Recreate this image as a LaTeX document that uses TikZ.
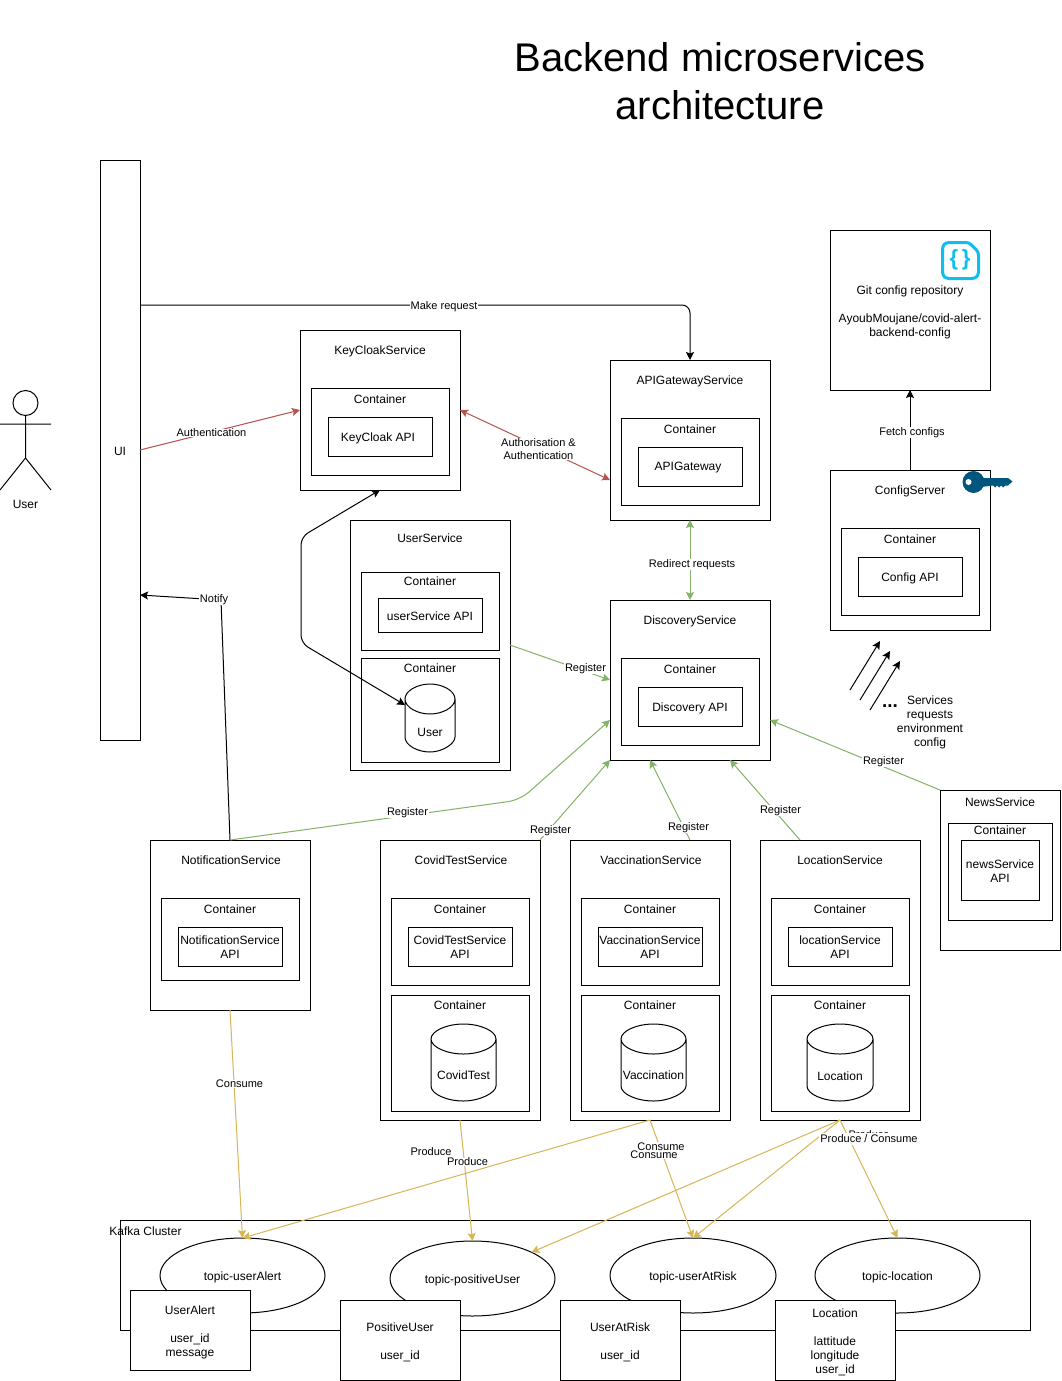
\documentclass[tikz,border=0pt]{standalone}
\usepackage{fontspec}
\setmainfont{Liberation Sans}
\usetikzlibrary{arrows.meta,calc,shapes.geometric}
\definecolor{gcol}{HTML}{82B366}
\definecolor{rcol}{HTML}{B85450}
\definecolor{ycol}{HTML}{D6B656}
\definecolor{keyc}{HTML}{00567E}
\definecolor{gitc}{HTML}{10BDF0}
\tikzset{
  bx/.style={draw=black,line width=1pt,fill=white,anchor=north west,inner sep=0pt,outer sep=0pt,align=center,font=\fontsize{12}{14}\selectfont},
  tx/.style={inner sep=0pt,outer sep=0pt,align=center,font=\fontsize{12}{14}\selectfont},
  lbl/.style={fill=white,inner xsep=1pt,inner ysep=0pt,outer sep=0pt,align=center,font=\fontsize{11}{13}\selectfont},
  tip/.style={-{Stealth[length=8pt,width=8pt,inset=1.5pt]}},
  dtip/.style={{Stealth[length=8pt,width=8pt,inset=1.5pt]}-{Stealth[length=8pt,width=8pt,inset=1.5pt]}},
  blk/.style={draw=black,line width=1pt,tip},
  grn/.style={draw=gcol,line width=1pt,tip},
  grnd/.style={draw=gcol,line width=1pt,dtip},
  redd/.style={draw=rcol,line width=1pt},
  gold/.style={draw=ycol,line width=1pt,tip},
  topic/.style={draw=black,line width=1pt,fill=white,inner sep=0pt,outer sep=0pt},
}
\newcommand{\boxat}[5]{\node[bx,minimum width=#4pt,minimum height=#5pt] (#1) at (#2,#3) {};}
\newcommand{\svc}[8][0]{\boxat{#2}{#3}{#4}{#5}{#6}\node[tx,xshift=#1pt] (#2-t) at ($(#3,#8)+(#5/2,0)$) {#7};}
\newcommand{\ctn}[6]{\boxat{#1}{#2}{#3}{#4}{#5}\node[tx] (#1-t) at ($(#2,#6)+(#4/2,0)$) {Container};}
\newcommand{\api}[7][yshift=-1pt]{\boxat{#2}{#3}{#4}{#5}{#6}\node[tx,#1] (#2-t) at (#2.center) {#7};}
\newcommand{\topicnode}[5]{\node[topic,ellipse,minimum width=#4pt,minimum height=75pt] (#1) at (#2,#3) {};\node[tx,yshift=-1.5pt] (#1-t) at (#1.center) {#5};}
\newcommand{\cyl}[7]{%
  \draw[draw=black,line width=1pt,fill=white]
    (#2,{#3+15}) -- (#2,{#3+#5-15})
    .. controls +(0,8.3) and ({#2+#4/4},{#3+#5}) .. ({#2+#4/2},{#3+#5})
    .. controls ({#2+3*#4/4},{#3+#5}) and ({#2+#4},{#3+#5-8.3}) .. ({#2+#4},{#3+#5-15})
    -- ({#2+#4},{#3+15})
    .. controls ({#2+#4},{#3+6.7}) and ({#2+3*#4/4},#3) .. ({#2+#4/2},#3)
    .. controls ({#2+#4/4},#3) and (#2,{#3+6.7}) .. (#2,{#3+15})
    .. controls (#2,{#3+23.3}) and ({#2+#4/4},{#3+30}) .. ({#2+#4/2},{#3+30})
    .. controls ({#2+3*#4/4},{#3+30}) and ({#2+#4},{#3+23.3}) .. ({#2+#4},{#3+15});
  \node[tx,minimum width=#4pt,minimum height=#5pt,anchor=north west] (#1) at (#2,#3) {};
  \node[tx] (#1-t) at ({#2+#4/2},#7) {#6};}
\begin{document}
\begin{tikzpicture}[x=1pt,y=-1pt]
\path[fill=white,use as bounding box] (0,0) rectangle (1061,1381);

% title
\node[inner sep=0pt,align=center,font=\fontsize{40}{48}\selectfont] (title) at (720,81) {Backend microservices\\architecture};

% UI and user
\boxat{ui}{100}{160}{40}{580}
\node[tx] (ui-t) at (120,451) {UI};
\node[draw=black,line width=1pt,fill=white,circle,minimum size=25pt,inner sep=0pt,outer sep=0pt] (head) at (25.5,403) {};
\coordinate (hip) at (25.5,458);
\coordinate (armL) at (0,424);
\coordinate (armR) at (51,424);
\coordinate (legL) at (0,490);
\coordinate (legR) at (51,490);
\draw[line width=1pt] (head.south) -- (hip) (armL) -- (armR) (legL) -- (hip) -- (legR);
\node[tx] (user-t) at (25.5,504) {User};

% KeyCloak
\svc{kc}{300}{330}{160}{160}{KeyCloakService}{351}
\ctn{kcc}{311}{388}{138}{87}{399}
\api[xshift=-2pt,yshift=-1.5pt]{kca}{328}{417}{104}{39}{KeyCloak API}

% API Gateway
\svc{gw}{610}{360}{160}{160}{APIGatewayService}{381}
\ctn{gwc}{621}{418}{138}{87}{429}
\api[xshift=-2pt,yshift=-1.5pt]{gwa}{638}{447}{104}{39}{APIGateway}

% Git
\boxat{git}{830}{230}{160}{160}
\node[tx] (git-t) at (910,312) {Git config repository\\[14pt]AyoubMoujane/covid-alert-\\backend-config};
\draw[gitc,line width=3pt,line join=round,rounded corners=3pt] (969,242.5) -- (946,242.5) -- (942.5,246) -- (942.5,275) -- (946,278.5) -- (975,278.5) -- (978.5,275) -- (978.5,252) -- cycle;
\node[inner sep=0pt,text=gitc,font=\fontsize{22}{24}\bfseries\selectfont] (gitbrace) at (960,260) {\{\,\}};

% Config server
\svc{cfg}{830}{470}{160}{160}{ConfigServer}{491}
\ctn{cfgc}{841}{528}{138}{87}{539}
\api[yshift=-1.5pt]{cfga}{858}{557}{104}{39}{Config API}
\fill[keyc] (973.5,482) circle (11pt);
\fill[keyc] (981,478) -- (1008,478) -- (1012.5,481.5) -- (1008,485.5) -- (1005,485.5) -- (1003,487.5) -- (1001,485.5) -- (999,487.5) -- (997,485.5) -- (995,487.5) -- (993,485.5) -- (981,487) -- cycle;
\fill[white] (968.5,482) circle (3pt);

% User service
\svc{us}{350}{520}{160}{250}{UserService}{538}
\ctn{usc}{361}{572}{138}{78}{581}
\api{usa}{378}{598}{104}{34}{userService API}
\ctn{usd}{361}{658}{138}{104}{668}
\cyl{usdb}{405}{684}{50}{68}{User}{732}

% Discovery
\svc{ds}{610}{600}{160}{160}{DiscoveryService}{621}
\ctn{dsc}{621}{658}{138}{87}{669}
\api[yshift=-1.5pt]{dsa}{638}{687}{104}{39}{Discovery API}

% News
\svc{ns}{940}{790}{120}{160}{NewsService}{802}
\ctn{nsc}{948}{823}{104}{97}{830}
\api{nsa}{961}{840}{78}{60}{newsService\\API}

% Notification
\svc[1]{nf}{150}{840}{160}{170}{NotificationService}{860}
\ctn{nfc}{161}{898}{138}{82}{909}
\api{nfa}{178}{927}{104}{39}{NotificationService\\API}

% CovidTest
\svc[1]{ct}{380}{840}{160}{280}{CovidTestService}{860}
\ctn{ctc}{391}{898}{138}{87}{909}
\api{cta}{408}{927}{104}{39}{CovidTestService\\API}
\ctn{ctd}{391}{995}{138}{116}{1005}
\cyl{ctdb}{431}{1024}{65}{77}{CovidTest}{1075}

% Vaccination
\svc[1]{vc}{570}{840}{160}{280}{VaccinationService}{860}
\ctn{vcc}{581}{898}{138}{87}{909}
\api{vca}{598}{927}{104}{39}{VaccinationService\\API}
\ctn{vcd}{581}{995}{138}{116}{1005}
\cyl{vcdb}{621}{1024}{65}{77}{Vaccination}{1075}

% Location
\svc{lc}{760}{840}{160}{280}{LocationService}{860}
\ctn{lcc}{771}{898}{138}{87}{909}
\api{lca}{788}{927}{104}{39}{locationService\\API}
\ctn{lcd}{771}{995}{138}{116}{1005}
\cyl{lcdb}{807}{1024}{66}{77}{Location}{1076}

% Kafka
\boxat{kafka}{120}{1220}{910}{110}
\node[tx] (kafka-t) at (145.5,1231) {Kafka Cluster};
\topicnode{t1}{242.5}{1275.5}{165}{topic-userAlert}
\topicnode{t2}{472.5}{1278.5}{165}{topic-positiveUser}
\topicnode{t3}{693}{1275.5}{166}{topic-userAtRisk}
\topicnode{t4}{897.5}{1275.5}{165}{topic-location}
\boxat{m1}{130}{1290}{120}{80}
\node[tx] (m1-t) at (190,1332) {UserAlert\\[14pt]user\_id\\message};
\boxat{m2}{340}{1300}{120}{80}
\node[tx] (m2-t) at (400,1342) {PositiveUser\\[14pt]user\_id};
\boxat{m3}{560}{1300}{120}{80}
\node[tx] (m3-t) at (620,1342) {UserAtRisk\\[14pt]user\_id};
\boxat{m4}{775}{1300}{120}{80}
\node[tx] (m4-t) at (835,1342) {Location\\[14pt]lattitude\\longitude\\user\_id};

% black connectors
\draw[blk,rounded corners=8pt] (ui.east |- 0,305) -| (gw.north);
\node[lbl] (l-make) at (444,306.5) {Make request};
\draw[blk] (nf.north) -- (221,600) -- (ui.east |- 0,595);
\node[lbl] (l-notify) at (214,600) {Notify};
\draw[blk] (cfg.north) -- (git.south);
\node[lbl] (l-fetch) at (912,432.5) {Fetch configs};
\draw[line width=1pt,dtip,rounded corners=8pt] (kc.south) -- (301,537) -- (301,643) -- (usdb.west |- 0,705);
\coordinate (a1s) at (850,690); \coordinate (a1e) at (880,641);
\coordinate (a2s) at (860,700); \coordinate (a2e) at (890,651);
\coordinate (a3s) at (870,710); \coordinate (a3e) at (900,661);
\draw[blk] (a1s) -- (a1e);
\draw[blk] (a2s) -- (a2e);
\draw[blk] (a3s) -- (a3e);
\node[inner sep=0pt,font=\fontsize{19}{19}\bfseries\selectfont] (dots) at (890,706) {...};
\node[tx] (services) at (930,722) {Services\\requests\\environment\\config};

% red connectors
\draw[redd,tip] (ui.east) -- (kc.west);
\node[lbl] (l-auth) at (211.5,433) {Authentication};
\draw[redd,dtip] (kc.east) -- (gw.west |- 0,480);
\node[lbl] (l-authz) at (538.5,449) {Authorisation \&\\Authentication};

% green connectors
\draw[grnd] (gw.south) -- (ds.north);
\node[lbl] (l-redir) at (692,564.5) {Redirect requests};
\draw[grn] (us.east |- 0,645) -- (ds.west |- 0,680);
\node[lbl] (l-r1) at (585.5,668.5) {Register};
\draw[grn,rounded corners=12pt] (nf.north) -- (520,800) -- (ds.west |- 0,720);
\node[lbl] (l-r2) at (407.5,812.5) {Register};
\draw[grn] (ct.north east) -- (ds.south west);
\node[lbl] (l-r3) at (550.5,830.5) {Register};
\draw[grn] (vc.north -| 690,0) -- (ds.south -| 650,0);
\node[lbl] (l-r4) at (688.5,827.5) {Register};
\draw[grn] (lc.north -| 800,0) -- (ds.south -| 730,0);
\node[lbl] (l-r5) at (780.5,810.5) {Register};
\draw[grn] (ns.north west) -- (ds.east |- 0,720);
\node[lbl] (l-r6) at (883.5,761.5) {Register};

% gold connectors
\draw[gold] (nf.south) -- (t1.north);
\node[lbl] (l-c1) at (239.5,1084) {Consume};
\draw[gold] (ct.south) -- (t2.north);
\node[lbl] (l-p0) at (431,1152) {Produce};
\node[lbl] (l-p1) at (467.5,1162) {Produce};
\draw[gold] (vc.south) -- (t1.north);
\draw[gold] (vc.south) -- (t3.north);
\node[lbl,inner ysep=1pt] (l-c2) at (661,1147) {Consume};
\node[lbl] (l-c3) at (654,1155) {Consume};
\fill[white] (l-c3.north east) rectangle ++(20,14);
\draw[gold] (lc.south) -- (t2.24);
\draw[gold] (lc.south) -- (t3.north);
\draw[gold] (lc.south) -- (t4.north);
\node[lbl] (l-p3) at (869,1135) {Produce};
\node[lbl,inner ysep=2pt] (l-p2) at (869,1139) {Produce / Consume};
\end{tikzpicture}
\end{document}
